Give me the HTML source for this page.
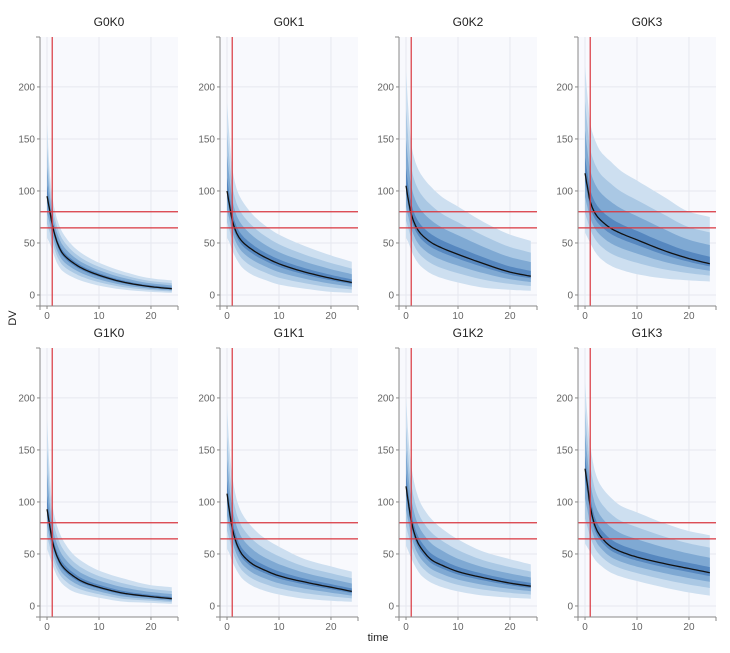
<!DOCTYPE html>
<html><head><meta charset="utf-8">
<style>
body{margin:0;background:#fff;width:730px;height:648px;overflow:hidden;font-family:"Liberation Sans",sans-serif;}
svg text{font-family:"Liberation Sans",sans-serif;}
</style></head>
<body>
<svg id="chart" width="730" height="648" xmlns="http://www.w3.org/2000/svg"></svg>
<script>
const times = [0,0.5,1,2,3,5,7,10,15,20,24];
const panelNames = ["G0K0","G0K1","G0K2","G0K3","G1K0","G1K1","G1K2","G1K3"];
const medians = [
 [95,82,68,50,40,31,25,19,12,8,6],
 [100,86,72,58,51,43,37,30,22,16,12],
 [105,90,78,65,58,50,45,39,30,22,18],
 [117,103,90,78,72,64,59,53,43,35,30],
 [93,78,63,47,38,29,23,18,12,9,7],
 [108,90,75,58,49,40,35,29,23,18,14],
 [115,98,82,64,55,44,39,33,27,22,19],
 [132,115,96,76,67,57,52,47,41,36,32]
];
const upper = [
 [165,120,95,72,60,47,39,31,22,16,14],
 [185,150,122,100,90,77,68,58,47,38,32],
 [215,175,145,125,115,103,94,85,70,58,52],
 [220,190,165,148,138,128,119,110,95,80,75],
 [180,130,98,76,64,50,42,34,26,20,18],
 [190,150,125,100,88,75,66,57,45,38,33],
 [200,160,135,110,97,83,74,64,52,45,40],
 [215,180,155,128,116,104,96,90,80,72,68]
];
const lower = [
 [55,50,43,30,23,17,13,9,5,3,2],
 [55,50,43,33,26,19,15,10,6,3,2],
 [55,50,43,33,27,20,16,12,7,5,4],
 [60,55,50,41,35,28,24,20,16,14,13],
 [55,48,40,28,21,14,11,8,4,3,2],
 [55,50,43,33,26,19,15,11,7,5,4],
 [58,52,46,36,29,22,18,14,10,8,7],
 [60,56,52,44,39,32,28,24,18,13,10]
];
const yTicks = [0,50,100,150,200];
const xTicks = [0,10,20];
const refY = [80,64.5];
const refX = [1];

const NS="http://www.w3.org/2000/svg";
const svg=document.getElementById('chart');
function mk(tag,attrs,parent){const e=document.createElementNS(NS,tag);for(const k in attrs)e.setAttribute(k,attrs[k]);(parent||svg).appendChild(e);return e;}
// monotone cubic sampling of a series
function smooth(xs,ys,n){
  const m=xs.length,d=[],t=[];
  for(let i=0;i<m-1;i++)d.push((ys[i+1]-ys[i])/(xs[i+1]-xs[i]));
  t[0]=d[0];t[m-1]=d[m-2];
  for(let i=1;i<m-1;i++)t[i]=(d[i-1]*d[i]<=0)?0:2/(1/d[i-1]+1/d[i]);
  const out=[];
  for(let i=0;i<m-1;i++){const h=xs[i+1]-xs[i];
    for(let k=0;k<n;k++){const s=k/n,h00=2*s*s*s-3*s*s+1,h10=s*s*s-2*s*s+s,h01=-2*s*s*s+3*s*s,h11=s*s*s-s*s;
      out.push([xs[i]+s*h,h00*ys[i]+h10*h*t[i]+h01*ys[i+1]+h11*h*t[i+1]]);}}
  out.push([xs[m-1],ys[m-1]]);return out;
}
const colX=[40,220,399,578], rowY=[0,311];
const W=138, xmin=-1.35, xmax=25.2, ymin=-10.6, ymax=248;
const bandFr=[0,0.33,0.6,0.85];
const bandCol=["#cddff0","#aac8e4","#7fa9d3","#5687bf"];

panelNames.forEach((name,p)=>{
  const ox=colX[p%4], oy=rowY[Math.floor(p/4)];
  const top=37+oy, bot=306+oy;
  const sx=v=>ox+(v-xmin)/(xmax-xmin)*W;
  const sy=v=>bot-(v-ymin)/(ymax-ymin)*(bot-top);
  const g=mk('g',{});
  
  
  const bg=mk('rect',{x:ox,y:top,width:W,height:bot-top,fill:'#f8f9fd'},g);
  
  
  yTicks.forEach(t=>{const l=mk('line',{x1:ox,x2:ox+W,y1:sy(t),y2:sy(t),stroke:'#e6e8f0','stroke-width':1},g);
    });
  xTicks.forEach(t=>{const l=mk('line',{x1:sx(t),x2:sx(t),y1:top,y2:bot,stroke:'#e6e8f0','stroke-width':1},g);
    });
  bandFr.forEach((f,b)=>{
    const hi=smooth(times,upper[p].map((u,i)=>u+(medians[p][i]-u)*f),6);
    const lo=smooth(times,lower[p].map((u,i)=>u+(medians[p][i]-u)*f),6);
    let d='';
    hi.forEach((q,i)=>{d+=(i?'L':'M')+sx(q[0]).toFixed(1)+','+sy(q[1]).toFixed(1);});
    for(let i=lo.length-1;i>=0;i--)d+='L'+sx(lo[i][0]).toFixed(1)+','+sy(lo[i][1]).toFixed(1);
    const path=mk('path',{d:d+'Z',fill:bandCol[b]},g);
    
    
  });
  let md='';
  smooth(times,medians[p],6).forEach((q,i)=>{md+=(i?'L':'M')+sx(q[0]).toFixed(1)+','+sy(q[1]).toFixed(1);});
  const ml=mk('path',{d:md,fill:'none',stroke:'#111','stroke-width':1.3},g);
  
  
  refY.forEach(v=>{const l=mk('line',{x1:ox,x2:ox+W,y1:sy(v),y2:sy(v),stroke:'#d9363e','stroke-width':1.2},g);
    });
  refX.forEach(v=>{const l=mk('line',{x1:sx(v),x2:sx(v),y1:top,y2:bot,stroke:'#d9363e','stroke-width':1.2},g);
    });
  const ya=mk('line',{x1:ox,x2:ox,y1:top,y2:bot,stroke:'#888','stroke-width':1},g);
  
  mk('line',{x1:ox-4,x2:ox,y1:top,y2:top,stroke:'#888'},g);
  const xa=mk('line',{x1:ox-4,x2:ox+W,y1:bot,y2:bot,stroke:'#888','stroke-width':1},g);
  
  mk('line',{x1:ox+W,x2:ox+W,y1:bot,y2:bot+4,stroke:'#888'},g);
  mk('line',{x1:ox,x2:ox,y1:bot,y2:bot+4,stroke:'#888'},g);
  yTicks.forEach(t=>{mk('line',{x1:ox-3,x2:ox,y1:sy(t),y2:sy(t),stroke:'#888'},g);
    const tx=mk('text',{x:ox-5,y:sy(t)+3.5,'text-anchor':'end','font-size':10,fill:'#666'},g);tx.textContent=t;
    });
  xTicks.forEach(t=>{mk('line',{x1:sx(t),x2:sx(t),y1:bot,y2:bot+3,stroke:'#888'},g);
    const tx=mk('text',{x:sx(t),y:bot+13,'text-anchor':'middle','font-size':10,fill:'#666'},g);tx.textContent=t;
    });
  const tt=mk('text',{x:ox+W/2,y:26+oy,'text-anchor':'middle','font-size':12,fill:'#222'},g);tt.textContent=name;
  
});
const yl=mk('text',{x:12,y:322,'text-anchor':'middle','font-size':11,fill:'#222',transform:'rotate(-90 12 318)'});yl.textContent='DV';

const xl=mk('text',{x:378,y:641,'text-anchor':'middle','font-size':11,fill:'#222'});xl.textContent='time';

</script>
</body></html>
